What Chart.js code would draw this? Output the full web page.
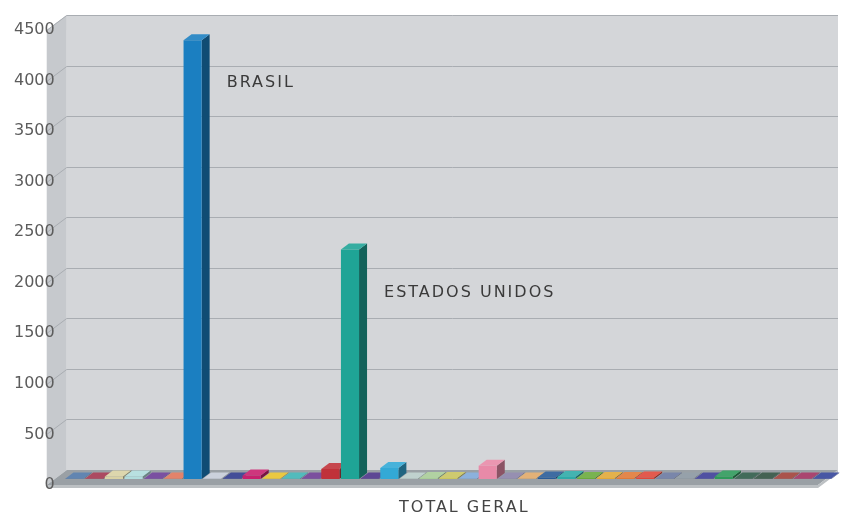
<!DOCTYPE html>
<html>
<head>
<meta charset="utf-8">
<title>TOTAL GERAL</title>
<script src="https://cdn.jsdelivr.net/npm/chart.js@4.4.1/dist/chart.umd.min.js"></script>
<style>
  html, body { margin: 0; background: #fff; }
  canvas { display: block; }
</style>
</head>
<body>
<canvas id="chart" width="845" height="520"></canvas>
<script>
// Data
const categories = ['TOTAL GERAL'];
const countries = [
  '', '', '', '', '', '', 'BRASIL', '', '', '', '', '', '', '', 'ESTADOS UNIDOS',
  '', '', '', '', '', '', '', '', '', '', '', '', '', '', '', '', '', '', '', '', '', '', '', ''
];
const values = [
  5, 5, 25, 25, 5, 5, 4340, 5, 5, 35, 5, 5, 5, 100, 2270,
  5, 110, 5, 10, 10, 5, 130, 5, 5, 15, 20, 10, 10, 10, 15, 5, 5, 5, 25, 5, 5, 5, 5, 5
];
const colors = [
  '#4f77a8', '#a3364f', '#d9d2a4', '#b0dcdc', '#6b3c96', '#e0755a', '#1b7fc1', '#c5ccd8',
  '#2e3a8c', '#c8206e', '#e7c22c', '#3fb3b5', '#6c3d93', '#c0323a', '#1fa496', '#4b3288',
  '#33a9d6', '#b8ccc8', '#a8cc98', '#c8c460', '#7fa8d8', '#e88aa8', '#8a82a8', '#e0a868',
  '#2a5c98', '#2eaaa8', '#6aaa3c', '#e0a838', '#e07a38', '#e0483a', '#6a78a0', '#8a96a0',
  '#3c3c98', '#2e9a5a', '#2d5a48', '#2f5040', '#a04038', '#a03060', '#34449a'
];
const yTicks = [0, 500, 1000, 1500, 2000, 2500, 3000, 3500, 4000, 4500];

// mix a hex colour toward black (f<1) or white (f>1)
function shade(hex, f) {
  const n = parseInt(hex.slice(1), 16);
  let rgb = [(n >> 16) & 255, (n >> 8) & 255, n & 255];
  rgb = rgb.map(c => f < 1 ? Math.round(c * f) : Math.round(c + (255 - c) * (f - 1)));
  return 'rgb(' + rgb.join(',') + ')';
}

const WALL_DX = 20, WALL_DY = 15;
const BAR_DX = 8, BAR_DY = 6;

// fake excel-style 3D box: walls, floor, bar sides/tops
const box3d = {
  id: 'box3d',
  beforeDraw(chart) {
    const { ctx, chartArea: ca, scales: { y } } = chart;
    const fl = ca.left - 10, bl = fl + WALL_DX;
    const br = ca.right + 14, fr = br - WALL_DX;
    const top = y.getPixelForValue(yTicks[yTicks.length - 1]);
    const bottom = y.getPixelForValue(0);
    ctx.save();
    // back wall
    ctx.fillStyle = '#d4d6d9';
    ctx.fillRect(bl, top - WALL_DY, br - bl, bottom - top);
    // left wall
    ctx.fillStyle = '#c6c9cd';
    ctx.beginPath();
    ctx.moveTo(fl, top); ctx.lineTo(bl, top - WALL_DY);
    ctx.lineTo(bl, bottom - WALL_DY); ctx.lineTo(fl, bottom);
    ctx.closePath(); ctx.fill();
    // grid lines
    ctx.strokeStyle = '#a9adb2';
    ctx.lineWidth = 1;
    yTicks.slice(1).forEach(v => {
      const py = Math.round(y.getPixelForValue(v)) + 0.5;
      ctx.beginPath();
      ctx.moveTo(fl, py); ctx.lineTo(bl, py - WALL_DY); ctx.lineTo(br, py - WALL_DY);
      ctx.stroke();
    });
    // floor
    ctx.fillStyle = '#9aa0a5';
    ctx.beginPath();
    ctx.moveTo(fl, bottom); ctx.lineTo(bl, bottom - WALL_DY);
    ctx.lineTo(br, bottom - WALL_DY); ctx.lineTo(fr, bottom);
    ctx.closePath(); ctx.fill();
    ctx.fillStyle = '#bcc0c3';
    ctx.beginPath();
    ctx.moveTo(fl, bottom); ctx.lineTo(fr, bottom); ctx.lineTo(br, bottom - WALL_DY);
    ctx.lineTo(br, bottom - WALL_DY + 3); ctx.lineTo(fr, bottom + 3); ctx.lineTo(fl, bottom + 3);
    ctx.closePath(); ctx.fill();
    ctx.restore();
  },
  beforeDatasetsDraw(chart) {
    const ctx = chart.ctx;
    ctx.save();
    ctx.translate(BAR_DX, -BAR_DY);
    chart.data.datasets.forEach((ds, i) => {
      const el = chart.getDatasetMeta(i).data[0];
      const { x, y, base, width } = el.getProps(['x', 'y', 'base', 'width'], true);
      const l = x - width / 2, r = x + width / 2;
      ctx.fillStyle = shade(colors[i], 0.6);
      ctx.beginPath();
      ctx.moveTo(r, y); ctx.lineTo(r + BAR_DX, y - BAR_DY);
      ctx.lineTo(r + BAR_DX, base - BAR_DY); ctx.lineTo(r, base);
      ctx.closePath(); ctx.fill();
      ctx.fillStyle = shade(colors[i], 1.1);
      ctx.beginPath();
      ctx.moveTo(l, y); ctx.lineTo(l + BAR_DX, y - BAR_DY);
      ctx.lineTo(r + BAR_DX, y - BAR_DY); ctx.lineTo(r, y);
      ctx.closePath(); ctx.fill();
    });
  },
  afterDatasetsDraw(chart) {
    const ctx = chart.ctx;
    ctx.restore();
    ctx.save();
    ctx.font = "16px 'DejaVu Sans'";
    ctx.letterSpacing = '2px';
    ctx.textBaseline = 'middle';
    // country labels next to the big bars
    ctx.fillStyle = '#3a3a3a';
    chart.data.datasets.forEach((ds, i) => {
      if (!ds.label) return;
      const el = chart.getDatasetMeta(i).data[0];
      ctx.textAlign = 'left';
      ctx.fillText(ds.label, el.x + el.width / 2 + 33, el.y + 37);
    });
    // category label
    const xs = chart.scales.x;
    ctx.fillStyle = '#444';
    ctx.textAlign = 'center';
    ctx.fillText(categories[0], xs.getPixelForValue(0) + 24, chart.chartArea.bottom + 23);
    ctx.restore();
  }
};

new Chart(document.getElementById('chart'), {
  type: 'bar',
  data: {
    labels: categories,
    datasets: values.map((v, i) => ({
      label: countries[i],
      data: [v],
      backgroundColor: colors[i],
      categoryPercentage: 1,
      barPercentage: 0.92
    }))
  },
  options: {
    responsive: false,
    animation: false,
    layout: { padding: { left: 12, top: 30, right: 21, bottom: 35 } },
    plugins: { legend: { display: false }, tooltip: { enabled: false } },
    scales: {
      x: { display: false },
      y: {
        min: 0,
        max: yTicks[yTicks.length - 1],
        afterBuildTicks: axis => { axis.ticks = yTicks.map(v => ({ value: v })); },
        grid: { display: false, drawTicks: false },
        border: { display: false },
        ticks: {
          padding: 2,
          color: '#5c5c5c',
          font: { family: "'DejaVu Sans'", size: 16 },
          callback: v => String(v)
        }
      }
    }
  },
  plugins: [box3d]
});
</script>
</body>
</html>
